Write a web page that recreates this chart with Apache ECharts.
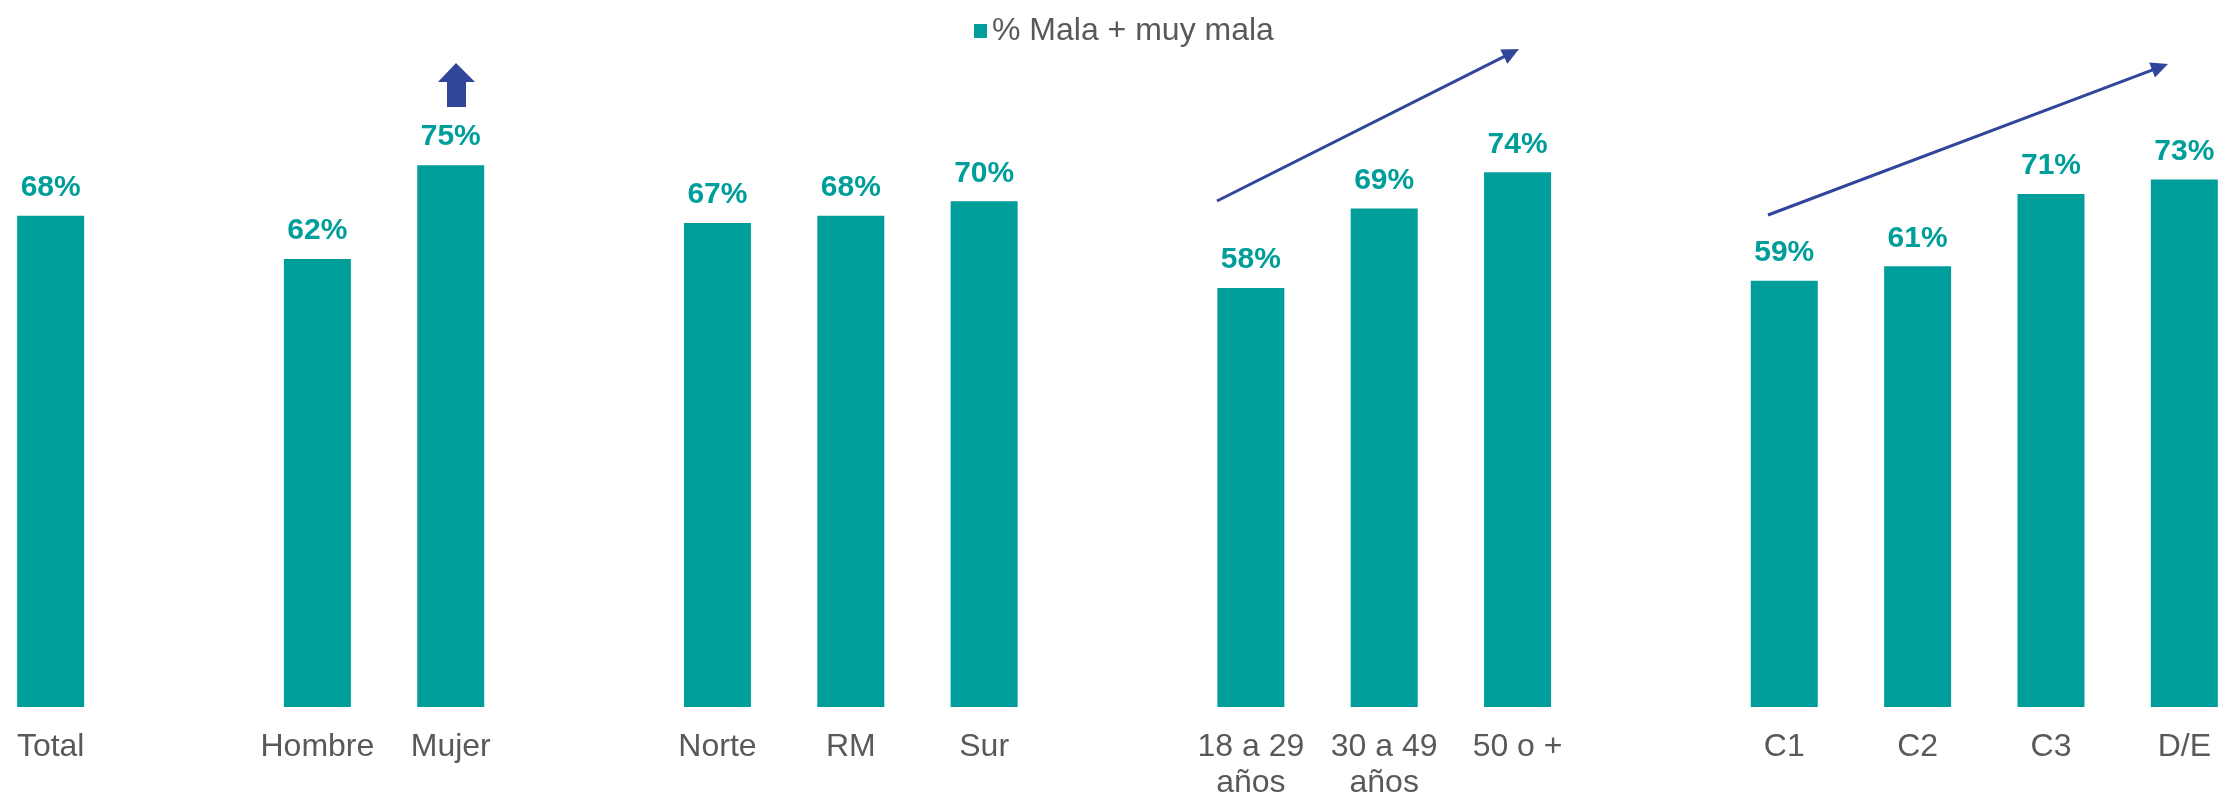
<!DOCTYPE html>
<html>
<head>
<meta charset="utf-8">
<script src="https://cdn.jsdelivr.net/npm/echarts@6/dist/echarts.min.js"></script>
<style>
  html, body { margin: 0; padding: 0; background: #fff; }
  #chart { width: 2219px; height: 793px; }
</style>
</head>
<body>
<div id="chart"></div>
<script>
// empty strings are the gaps between groups
var categories = ['Total', '', 'Hombre', 'Mujer', '', 'Norte', 'RM', 'Sur', '',
    '18 a 29\naños', '30 a 49\naños', '50 o +', '', 'C1', 'C2', 'C3', 'D/E'];
var values = [68, null, 62, 75, null, 67, 68, 70, null, 58, 69, 74, null, 59, 61, 71, 73];
var seriesName = '% Mala + muy mala';

var teal = '#009E9A';
var navy = '#31469B';
var grayText = '#595959';
var axisFont = 'Arial, "Liberation Sans", sans-serif';

function arrowHead(x1, y1, x2, y2, len, half) {
    var a = Math.atan2(y2 - y1, x2 - x1);
    var bx = x2 - len * Math.cos(a), by = y2 - len * Math.sin(a);
    var px = -Math.sin(a) * half, py = Math.cos(a) * half;
    return [[x2, y2], [bx + px, by + py], [bx - px, by - py]];
}

function trendArrow(x1, y1, x2, y2) {
    return [
        { type: 'polyline', shape: { points: [[x1, y1], [x2 - (x2 - x1) * 0.03, y2 - (y2 - y1) * 0.03]] },
          style: { stroke: navy, lineWidth: 3, fill: null } },
        { type: 'polygon', shape: { points: arrowHead(x1, y1, x2, y2, 17, 8) },
          style: { fill: navy } }
    ];
}

var myChart = echarts.init(document.getElementById('chart'));

var option = {
    animation: false,
    legend: {
        data: [seriesName],
        left: 969,
        top: 10,
        itemWidth: 13,
        itemHeight: 14,
        icon: 'rect',
        textStyle: { fontFamily: axisFont, fontSize: 32, color: grayText }
    },
    grid: {
        left: -16,
        right: -32,
        top: 129,
        bottom: 86,
        containLabel: false,
        outerBoundsMode: 'none'
    },
    xAxis: {
        type: 'category',
        data: categories,
        axisLine: { show: false },
        axisTick: { show: false },
        axisLabel: {
            interval: 0,
            margin: 22,
            fontFamily: axisFont,
            fontSize: 32,
            lineHeight: 36,
            color: grayText
        }
    },
    yAxis: {
        type: 'value',
        min: 0,
        max: 80,
        show: false,
        splitLine: { show: false }
    },
    series: [{
        name: seriesName,
        type: 'bar',
        data: values,
        barWidth: 67,
        itemStyle: { color: teal },
        label: {
            show: true,
            position: 'top',
            distance: 13,
            formatter: '{c}%',
            fontFamily: 'Arial, "Liberation Sans", sans-serif',
            fontWeight: 'bold',
            fontSize: 30,
            color: teal
        }
    }],
    graphic: [
        // up arrow above Mujer
        { type: 'polygon',
          shape: { points: [[456, 63], [475, 82], [466, 82], [466, 107], [447, 107], [447, 82], [438, 82]] },
          style: { fill: navy } }
    ].concat(trendArrow(1217, 201, 1519, 49), trendArrow(1768, 215, 2168, 64))
};

myChart.setOption(option);
</script>
</body>
</html>
